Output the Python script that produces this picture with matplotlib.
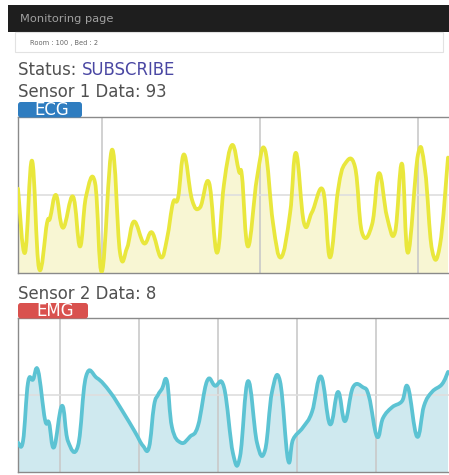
import matplotlib
matplotlib.use("Agg")
from matplotlib import pyplot as plt
from matplotlib.path import Path
from matplotlib.patches import PathPatch, Rectangle, FancyBboxPatch

plt.rcParams['font.family'] = ['DejaVu Sans']

W, H = 449, 475

# page texts
page_title = "Monitoring page"
room_info = "Room : 100 , Bed : 2"
status_label = "Status: "
status_value = "SUBSCRIBE"
sensor1_title = "Sensor 1 Data: 93"
sensor2_title = "Sensor 2 Data: 8"

# ECG samples (time, value)
ecg_t = [0, 7, 14, 21, 29, 32, 38, 45, 55, 62, 68, 77, 84, 94, 102, 109, 116, 126,
         134, 143, 149, 155, 160, 166, 174, 182, 191, 199, 206, 214, 221, 224, 230,
         239, 247, 255, 263, 272, 278, 286, 294, 305, 312, 320, 327, 337, 344, 354,
         361, 369, 377, 384, 390, 400, 407, 414, 422, 430]
ecg_v = [54, 13, 72, 3, 32, 35, 50, 29, 49, 17, 49, 58, 1, 79, 13, 16, 33, 19,
         26, 10, 22, 45, 48, 76, 47, 42, 58, 13, 57, 82, 65, 62, 17,
         61, 79, 32, 10, 38, 77, 32, 39, 53, 10, 53, 70, 68, 26, 31,
         64, 36, 26, 70, 13, 76, 66, 15, 18, 74]

# EMG samples (time, value)
emg_t = [0, 5, 10, 15, 20, 27, 31, 36, 44, 50, 60, 68, 79, 92, 105, 117, 125, 131,
         136, 140, 144, 149, 154, 163, 172, 180, 189, 197, 206, 215, 222, 230, 239,
         247, 254, 262, 270, 275, 285, 294, 303, 312, 320, 327, 335, 345, 351, 359,
         365, 374, 384, 390, 399, 406, 414, 424, 430]
emg_v = [19, 20, 58, 60, 66, 34, 32, 16, 43, 20, 17, 62, 61, 52, 39, 26, 17, 16,
         43, 50, 54, 59, 29, 19, 23, 30, 59, 56, 55, 12, 10, 59, 19,
         14, 52, 59, 8, 21, 29, 39, 62, 31, 52, 33, 55, 55, 49, 23,
         35, 42, 46, 55, 23, 43, 52, 57, 65]

ecg_grid_x = [84, 242, 400]
emg_grid_x = [42, 121, 200, 279, 358]


def fx(x):
    return x / W


def fy(y):
    return 1 - y / H


def curve(xs, ys, k=0.2):
    # smooth line through the samples (cubic bezier, chart.js like tension)
    verts = [(xs[0], ys[0])]
    codes = [Path.MOVETO]
    n = len(xs)
    for i in range(n - 1):
        a = max(i - 1, 0)
        d = min(i + 2, n - 1)
        c1 = (xs[i] + (xs[i + 1] - xs[a]) * k, ys[i] + (ys[i + 1] - ys[a]) * k)
        c2 = (xs[i + 1] - (xs[d] - xs[i]) * k, ys[i + 1] - (ys[d] - ys[i]) * k)
        verts += [c1, c2, (xs[i + 1], ys[i + 1])]
        codes += [Path.CURVE4] * 3
    return verts, codes


def draw_chart(ax, xs, ys, line_col, fill_col, grid_x):
    verts, codes = curve(xs, ys)
    fv = verts + [(xs[-1], 0), (xs[0], 0), (xs[0], ys[0])]
    fc = codes + [Path.LINETO, Path.LINETO, Path.CLOSEPOLY]
    ax.add_patch(PathPatch(Path(fv, fc), facecolor=fill_col, edgecolor='none', zorder=1))
    ax.add_patch(PathPatch(Path(verts, codes), facecolor='none', edgecolor=line_col,
                           lw=2.7, capstyle='round', joinstyle='round', zorder=3))
    for gx in grid_x:
        ax.axvline(gx, color='#c9c9c9', lw=1.2, zorder=2)
    ax.axhline(50, color='#dedede', lw=1.2, zorder=2)
    ax.set_xlim(0, 431)
    ax.set_ylim(0, 100)
    ax.set_xticks([])
    ax.set_yticks([])
    ax.spines['right'].set_visible(False)
    for s in ['left', 'top', 'bottom']:
        ax.spines[s].set_color('#8a8a8a')
        ax.spines[s].set_linewidth(1.0)


fig = plt.figure(figsize=(W / 100, H / 100), dpi=100)

# header bar
fig.patches.append(Rectangle((fx(8), fy(32)), fx(441), 27 / H, transform=fig.transFigure,
                             facecolor='#1e1e1e', edgecolor='none'))
fig.text(fx(20), fy(19), page_title, color='#a0a0a0', fontsize=8.2, va='center')

# room panel
fig.patches.append(Rectangle((fx(15.5), fy(52)), fx(427.5), 20 / H, transform=fig.transFigure,
                             facecolor='white', edgecolor='#e2e2e2', lw=0.8))
fig.text(fx(30), fy(42.5), room_info, color='#666666', fontsize=4.8, va='center')

# status line
fs = 11.9
t = fig.text(fx(18), fy(75), status_label, color='#505050', fontsize=fs, va='baseline')
fig.canvas.draw()
bb = t.get_window_extent()
fig.text(bb.x1 / W, fy(75), status_value, color='#4a47a3', fontsize=fs, va='baseline')

fig.text(fx(18), fy(97), sensor1_title, color='#505050', fontsize=fs, va='baseline')
fig.text(fx(18), fy(299), sensor2_title, color='#505050', fontsize=fs, va='baseline')

# badges
for (x0, x1, y0, y1, col, label) in [(18, 82, 102, 117.5, '#2f7dc0', 'ECG'),
                                      (18, 88, 303, 318.5, '#d9514e', 'EMG')]:
    fig.patches.append(FancyBboxPatch((fx(x0), fy(y1)), fx(x1 - x0), (y1 - y0) / H,
                                      boxstyle='round,pad=0,rounding_size=0.006',
                                      transform=fig.transFigure, facecolor=col,
                                      edgecolor='none'))
    fig.text(fx((x0 + x1) / 2 + 2), fy((y0 + y1) / 2 + 0.5), label, color='white',
             fontsize=12, ha='center', va='center')

ax1 = fig.add_axes([fx(18), fy(273), fx(431), 156 / H])
draw_chart(ax1, ecg_t, ecg_v, '#e9e73c', '#f8f6d3', ecg_grid_x)

ax2 = fig.add_axes([fx(18), fy(472), fx(431), 154 / H])
draw_chart(ax2, emg_t, emg_v, '#5cc3d3', '#cfe9ef', emg_grid_x)

fig.savefig('out.png', dpi=100)
